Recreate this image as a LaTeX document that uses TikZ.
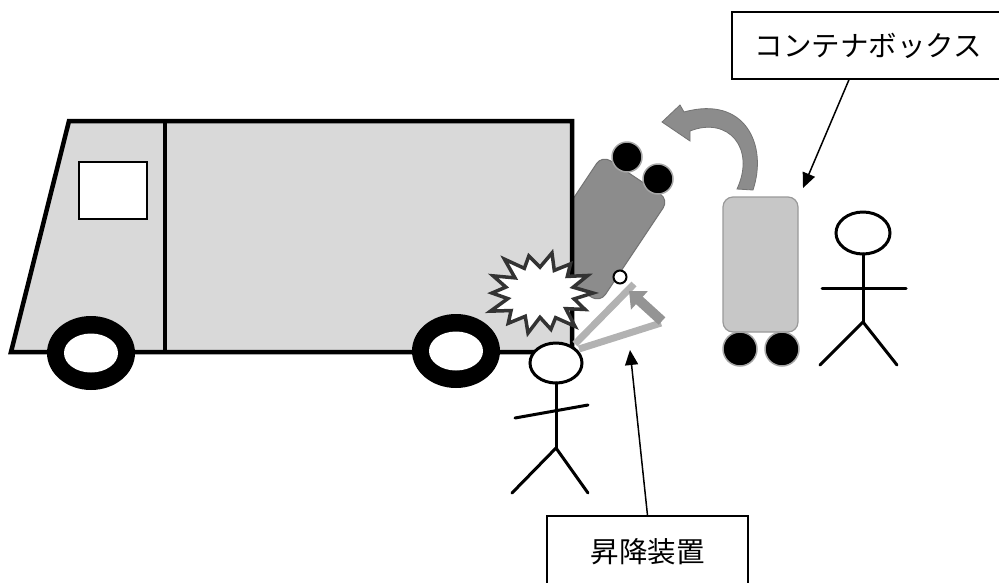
\documentclass[tikz,border=0pt]{standalone}
\usepackage{fontspec}
\newfontfamily\jpfont{Noto Sans CJK JP}
\usetikzlibrary{arrows.meta,calc}

\tikzset{
  truckline/.style={line width=4.5pt, line join=miter},
  wire/.style={line width=3pt, line cap=round},
  lift/.style={line width=7pt, black!30},
  burst/.style={draw=black!80, line width=3.5pt, fill=white, line join=miter},
  tag/.style={draw, line width=1.3pt, fill=white, inner sep=0pt,
    font=\jpfont\fontsize{28.5}{30}\selectfont},
  pointer/.style={line width=1.5pt, -{Triangle[length=15pt,width=13pt]}},
}

\begin{document}
\begin{tikzpicture}[x=1pt, y=-1pt]
  \useasboundingbox (0,0) rectangle (999,582);

  % box tipped onto the lift, half behind the truck
  \begin{scope}[shift={(601,229)}, rotate=-33.7]
    \draw[draw=black!55, fill=black!45, line width=1pt, rounded corners=10pt]
      (-40,-62) rectangle (40,62);
  \end{scope}
  \foreach \p in {(627,157), (658,179)}
    \draw[draw=black!35, fill=black, line width=1.5pt] \p circle (15pt);

  % truck
  \draw[truckline, fill=black!15] (69,121) -- (572,121) -- (572,352) -- (11,352) -- cycle;
  \draw[truckline] (165,121) -- (165,352);
  \draw[line width=2pt, fill=white] (79,162) rectangle (147,219);
  \foreach \c in {(91,353), (456,351)} {
    \fill \c ellipse [x radius=44pt, y radius=37pt];
    \fill[white] \c ellipse [x radius=27pt, y radius=19.5pt];
  }

  % lift arms
  \draw[lift] (575,344) -- (634,284);
  \draw[lift] (579,349) -- (661,323);
  \draw[line width=2pt, fill=white] (620,277) circle (6.5pt);
  \draw[black!42, line width=10pt, -{Triangle[length=14pt,width=24pt]}] (662,321) -- (629,291);

  % impact
  \begin{scope}[shift={(540,293)}, yscale=0.76]
    \draw[burst] (0:53) -- (12.86:35)
      \foreach \i/\ro/\ri in {1/50/33, 2/56/36, 3/49/32, 4/54/34, 5/51/37, 6/55/33,
                              7/48/35, 8/52/32, 9/57/36, 10/50/34, 11/54/33, 12/49/35, 13/53/34}
      { -- ({\i*25.71}:\ro) -- ({\i*25.71+12.86}:\ri) } -- cycle;
  \end{scope}

  % worker at the lift
  \draw[wire, fill=white] (556,363) ellipse [x radius=26pt, y radius=20pt];
  \draw[wire] (556,383) -- (556,448);
  \draw[wire] (515,418) -- (588,405);
  \draw[wire] (512,493) -- (556,448) -- (588,493);

  % box standing on the ground
  \draw[draw=black!40, fill=black!22, line width=1.2pt, rounded corners=10pt]
    (723,197) rectangle (798,332);
  \foreach \p in {(740,349), (782,349)}
    \draw[draw=black!35, fill=black, line width=1.5pt] \p circle (17pt);

  % second worker
  \draw[wire, fill=white] (863,233) ellipse [x radius=27pt, y radius=21pt];
  \draw[wire] (863,254) -- (863,322);
  \draw[wire] (822,288) -- (906,288);
  \draw[wire] (820,365) -- (863,322) -- (897,365);

  % turn-over arrow
  \filldraw[fill=black!45, draw=black!55, line width=0.8pt]
    (753,190) .. controls (768,145) and (745,95) .. (684,112)
    -- (680,105) -- (662,122) -- (690,141) -- (690,131)
    .. controls (728,116) and (756,148) .. (737,189) -- cycle;

  % labels
  \node[tag, minimum width=273pt, minimum height=67pt] (cbox) at (868.5,45.5) {コンテナボックス};
  \node[tag, minimum width=201pt, minimum height=72pt] (lbox) at (647.5,552) {昇降装置};
  \coordinate (cbox tip) at (803,188);
  \coordinate (lbox tip) at (630,350);
  \draw[pointer] ($(cbox.south)+(-19.5,0)$) -- (cbox tip);
  \draw[pointer] (lbox.north) -- (lbox tip);
\end{tikzpicture}
\end{document}
